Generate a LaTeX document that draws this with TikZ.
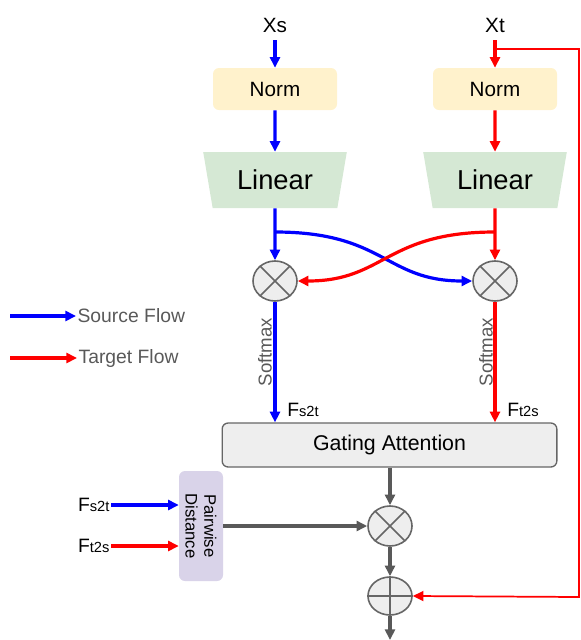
\documentclass[tikz,border=0pt]{standalone}
\usepackage{fontspec}
\setmainfont{Liberation Sans}
\usetikzlibrary{shapes.geometric,arrows.meta}
\definecolor{srcblue}{RGB}{0,0,255}
\definecolor{tgtred}{RGB}{255,0,0}
\definecolor{normfill}{HTML}{FFF2CC}
\definecolor{linfill}{HTML}{D5E8D4}
\definecolor{gatefill}{HTML}{EEEEEE}
\definecolor{edgegray}{HTML}{666666}
\definecolor{pairfill}{HTML}{D9D3E9}
\definecolor{labgray}{HTML}{595959}
\begin{document}
\begin{tikzpicture}[x=0.75pt,y=-0.75pt,
  flow/.style={line width=2.4pt,-{Triangle[length=8pt,width=7.5pt]}},
  blueflow/.style={flow,draw=srcblue},
  redflow/.style={flow,draw=tgtred},
  grayflow/.style={flow,draw=labgray},
  toplbl/.style={inner sep=6pt,font=\fontsize{15.5}{18}\selectfont},
  normbox/.style={rectangle,rounded corners=4.5pt,fill=normfill,minimum width=93pt,minimum height=31.5pt,font=\fontsize{15.5}{18}\selectfont},
  linbox/.style={trapezium,trapezium stretches=true,trapezium angle=74,shape border rotate=180,fill=linfill,minimum width=108pt,minimum height=42pt,inner sep=0pt,font=\fontsize{20.5}{24}\selectfont},
  opnode/.style={ellipse,draw=edgegray,line width=1.2pt,fill=gatefill,minimum width=33pt,minimum height=30pt,inner sep=0pt},
  crossline/.style={draw=edgegray,line width=1.2pt},
  gatebox/.style={rectangle,rounded corners=4.5pt,draw=edgegray,line width=1pt,fill=gatefill,minimum width=251pt,minimum height=33pt,font=\fontsize{16}{19}\selectfont},
  pairbox/.style={rectangle,rounded corners=4.5pt,fill=pairfill,minimum width=82.5pt,minimum height=33pt,rotate=-90,align=center,inner sep=1pt,font=\fontsize{12.5}{14}\selectfont},
  softlbl/.style={rotate=90,text=labgray,inner sep=0pt,font=\fontsize{14}{16}\selectfont},
  flbl/.style={inner sep=1pt,font=\fontsize{14.5}{17}\selectfont},
  legtext/.style={anchor=west,inner sep=1pt,text=labgray,font=\fontsize{14.5}{17}\selectfont}
]
\useasboundingbox (0,0) rectangle (581,640);

% top labels
\node[toplbl] (xs) at (275,25) {Xs};
\node[toplbl] (xt) at (495,25) {Xt};
% norm
\node[normbox] (ns) at (275,89) {Norm};
\node[normbox] (nt) at (495,89) {Norm};
% linear
\node[linbox] (ls) at (275,180) {Linear};
\node[linbox] (lt) at (495,180) {Linear};
% multiply circles
\node[opnode] (ms) at (275,281) {};
\node[opnode] (mt) at (495,281) {};
\foreach \n in {ms,mt}{
  \draw[crossline] (\n.45) -- (\n.225);
  \draw[crossline] (\n.135) -- (\n.315);
}
% gating
\node[gatebox] (ga) at (389.5,445) {Gating Attention};
% pairwise
\node[pairbox] (pd) at (201,526) {Pairwise\\Distance};
% bottom ops
\node[opnode] (mul) at (390,526) {};
\draw[crossline] (mul.45) -- (mul.225);
\draw[crossline] (mul.135) -- (mul.315);
\node[opnode,minimum height=28.5pt] (add) at (390,596) {};
\draw[crossline] (add.north) -- (add.south);
\draw[crossline] (add.west) -- (add.east);
\coordinate (out) at (390,640);

% source flow
\draw[blueflow] (xs.south) -- (ns.north);
\draw[blueflow] (ns.south) -- (ls.north);
\draw[blueflow] (ls.south) -- (ms.north);
\coordinate (bs) at (275,232);
\draw[blueflow] (bs) .. controls (385,232) and (385,281) .. (mt.west);
\draw[blueflow] (ms.south) -- (ms.south |- ga.north);

% target flow
\draw[redflow] (xt.south) -- (nt.north);
\draw[redflow] (nt.south) -- (lt.north);
\draw[redflow] (lt.south) -- (mt.north);
\coordinate (bt) at (495,232);
\draw[redflow] (bt) .. controls (385,232) and (385,281) .. (ms.east);
\draw[redflow] (mt.south) -- (mt.south |- ga.north);

% residual loop
\coordinate (tj) at (495,49);
\coordinate (lc1) at (579,49);
\coordinate (lc2) at (579,597);
\draw[draw=tgtred,line width=1.3pt,-{Triangle[length=8pt,width=7.5pt]}] (tj) -- (lc1) -- (lc2) -- (add.east);

% softmax labels
\node[softlbl] (sm1) at (265,352) {Softmax};
\node[softlbl] (sm2) at (486,352) {Softmax};

% F labels
\node[flbl] (f1) at (303,410) {F{\fontsize{11}{13}\selectfont s2t}};
\node[flbl] (f2) at (523,410) {F{\fontsize{11}{13}\selectfont t2s}};
\node[flbl,anchor=east] (lf1) at (111,505) {F{\fontsize{11}{13}\selectfont s2t}};
\node[flbl,anchor=east] (lf2) at (111,546) {F{\fontsize{11}{13}\selectfont t2s}};
\draw[blueflow] (lf1.east) -- (lf1 -| pd.south);
\draw[redflow] (lf2.east) -- (lf2 -| pd.south);

% gray flow
\draw[grayflow] (pd.north |- mul) -- (mul.west);
\draw[grayflow] (ga.south -| mul) -- (mul.north);
\draw[grayflow] (mul.south) -- (add.north);
\draw[grayflow] (add.south) -- (out);

% legend
\coordinate (lga) at (10,316);
\node[legtext] (lg1) at (76,316) {Source Flow};
\draw[blueflow] (lga) -- (lg1.west);
\coordinate (lgb) at (10,358);
\node[legtext] (lg2) at (77,358) {Target Flow};
\draw[redflow] (lgb) -- (lg2.west);
\end{tikzpicture}
\end{document}
